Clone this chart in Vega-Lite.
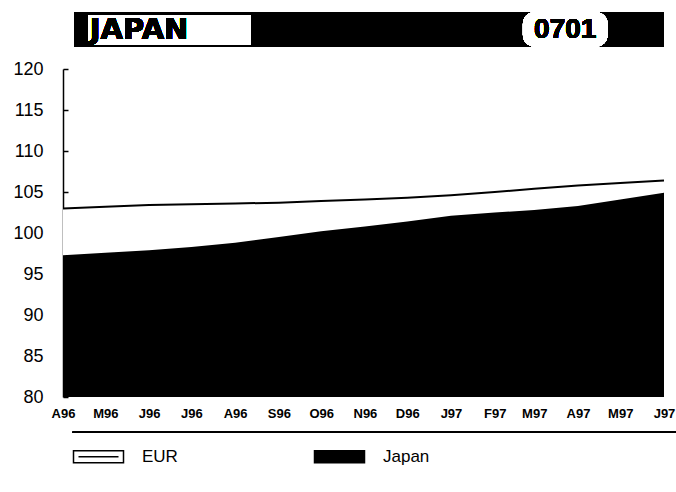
{
  "$schema": "https://vega.github.io/schema/vega-lite/v6.json",
  "width": 601,
  "height": 328,
  "autosize": {"type": "none"},
  "padding": {"left": 63, "top": 69, "right": 12, "bottom": 95},
  "background": "white",
  "config": {
    "view": {"stroke": null},
    "font": "Liberation Sans"
  },
  "data": {
    "values": [
      {"date": "1996-04-01", "series": "EUR", "value": 103.0},
      {"date": "1996-05-01", "series": "EUR", "value": 103.2},
      {"date": "1996-06-01", "series": "EUR", "value": 103.4},
      {"date": "1996-07-01", "series": "EUR", "value": 103.5},
      {"date": "1996-08-01", "series": "EUR", "value": 103.6},
      {"date": "1996-09-01", "series": "EUR", "value": 103.7},
      {"date": "1996-10-01", "series": "EUR", "value": 103.9},
      {"date": "1996-11-01", "series": "EUR", "value": 104.1},
      {"date": "1996-12-01", "series": "EUR", "value": 104.3},
      {"date": "1997-01-01", "series": "EUR", "value": 104.6},
      {"date": "1997-02-01", "series": "EUR", "value": 105.0},
      {"date": "1997-03-01", "series": "EUR", "value": 105.4},
      {"date": "1997-04-01", "series": "EUR", "value": 105.8},
      {"date": "1997-05-01", "series": "EUR", "value": 106.1},
      {"date": "1997-06-01", "series": "EUR", "value": 106.4},
      {"date": "1996-04-01", "series": "Japan", "value": 97.3},
      {"date": "1996-05-01", "series": "Japan", "value": 97.6},
      {"date": "1996-06-01", "series": "Japan", "value": 97.9},
      {"date": "1996-07-01", "series": "Japan", "value": 98.3},
      {"date": "1996-08-01", "series": "Japan", "value": 98.8},
      {"date": "1996-09-01", "series": "Japan", "value": 99.5},
      {"date": "1996-10-01", "series": "Japan", "value": 100.2},
      {"date": "1996-11-01", "series": "Japan", "value": 100.8},
      {"date": "1996-12-01", "series": "Japan", "value": 101.4},
      {"date": "1997-01-01", "series": "Japan", "value": 102.1},
      {"date": "1997-02-01", "series": "Japan", "value": 102.5},
      {"date": "1997-03-01", "series": "Japan", "value": 102.8},
      {"date": "1997-04-01", "series": "Japan", "value": 103.3},
      {"date": "1997-05-01", "series": "Japan", "value": 104.1},
      {"date": "1997-06-01", "series": "Japan", "value": 104.9}
    ]
  },
  "layer": [
    {
      "mark": {"type": "area", "strokeWidth": 0},
      "encoding": {
        "x": {
          "field": "date", "type": "temporal",
          "scale": {
            "type": "utc", "nice": false,
            "domain": [
              {"year": 1996, "month": 4, "date": 1, "utc": true},
              {"year": 1997, "month": 6, "date": 1, "utc": true}
            ]
          },
          "title": null,
          "axis": {
            "tickCount": {"interval": "month", "step": 1},
            "labelExpr": "substring(utcFormat(datum.value, '%b'), 0, 1) + utcFormat(datum.value, '%y')",
            "labelFont": "Liberation Sans",
            "labelFontSize": 13,
            "labelFontWeight": "bold",
            "labelColor": "black",
            "labelPadding": 10,
            "labelOverlap": false,
            "labelBound": false,
            "labelFlush": false,
            "ticks": false,
            "domain": false,
            "grid": false
          }
        },
        "y": {
          "field": "value", "type": "quantitative",
          "stack": null,
          "scale": {"domain": [80, 120], "nice": false, "zero": false},
          "title": null,
          "axis": {
            "values": [80, 85, 90, 95, 100, 105, 110, 115, 120],
            "labelFont": "Liberation Sans",
            "labelFontSize": 18,
            "labelColor": "black",
            "labelPadding": 25,
            "tickSize": -5,
            "tickColor": "black",
            "tickWidth": 1.5,
            "domainColor": "black",
            "domainWidth": 1.5,
            "grid": false
          }
        },
        "fill": {
          "field": "series", "type": "nominal",
          "scale": {"domain": ["EUR", "Japan"], "range": ["white", "black"]},
          "legend": {
            "orient": "none",
            "legendX": 22,
            "legendY": 374,
            "direction": "horizontal",
            "title": null,
            "symbolType": "M-2,-0.48H2V0.48H-2Z M-1.6,0H1.6",
            "symbolSize": 625,
            "symbolStrokeColor": "black",
            "symbolStrokeWidth": 1.5,
            "symbolOpacity": 1,
            "labelFont": "Liberation Sans",
            "labelFontSize": 17,
            "labelColor": "black",
            "labelOffset": 30,
            "columnPadding": 133
          }
        }
      }
    },
    {
      "transform": [{"filter": "datum.series === 'EUR'"}],
      "mark": {"type": "line", "color": "black", "strokeWidth": 2},
      "encoding": {
        "x": {"field": "date", "type": "temporal"},
        "y": {"field": "value", "type": "quantitative"}
      }
    },
    {
      "mark": {"type": "rule", "color": "black", "strokeWidth": 1.5},
      "encoding": {
        "x": {"datum": {"year": 1996, "month": 4, "date": 8, "utc": true}, "type": "temporal"},
        "x2": {"datum": {"year": 1997, "month": 6, "date": 9, "utc": true}},
        "y": {"datum": 75.7, "type": "quantitative"}
      }
    },
    {
      "mark": {"type": "rect", "color": "black"},
      "encoding": {
        "x": {"datum": {"year": 1996, "month": 4, "date": 9, "utc": true}, "type": "temporal"},
        "x2": {"datum": {"year": 1997, "month": 6, "date": 1, "utc": true}},
        "y": {"datum": 126.95, "type": "quantitative"},
        "y2": {"datum": 122.7}
      }
    },
    {
      "mark": {"type": "rect", "color": "white"},
      "encoding": {
        "x": {"datum": {"year": 1996, "month": 4, "date": 19, "utc": true}, "type": "temporal"},
        "x2": {"datum": {"year": 1996, "month": 8, "date": 12, "utc": true}},
        "y": {"datum": 126.6, "type": "quantitative"},
        "y2": {"datum": 123.0}
      }
    },
    {
      "mark": {"type": "rect", "color": "white", "cornerRadius": 12},
      "encoding": {
        "x": {"datum": {"year": 1997, "month": 2, "date": 21, "utc": true}, "type": "temporal"},
        "x2": {"datum": {"year": 1997, "month": 4, "date": 22, "utc": true}},
        "y": {"datum": 126.95, "type": "quantitative"},
        "y2": {"datum": 122.7}
      }
    },
    {
      "mark": {"type": "text", "text": "JAPAN", "font": "DejaVu Sans", "fontWeight": "bold", "fontSize": 29, "align": "left", "baseline": "middle", "color": "black"},
      "encoding": {
        "x": {"datum": {"year": 1996, "month": 4, "date": 20, "utc": true}, "type": "temporal"},
        "y": {"datum": 124.8, "type": "quantitative"}
      }
    },
    {
      "mark": {"type": "text", "text": "0701", "font": "Liberation Sans", "fontWeight": "bold", "fontSize": 28, "align": "center", "baseline": "middle", "color": "black"},
      "encoding": {
        "x": {"datum": {"year": 1997, "month": 3, "date": 23, "utc": true}, "type": "temporal"},
        "y": {"datum": 124.8, "type": "quantitative"}
      }
    }
  ]
}
